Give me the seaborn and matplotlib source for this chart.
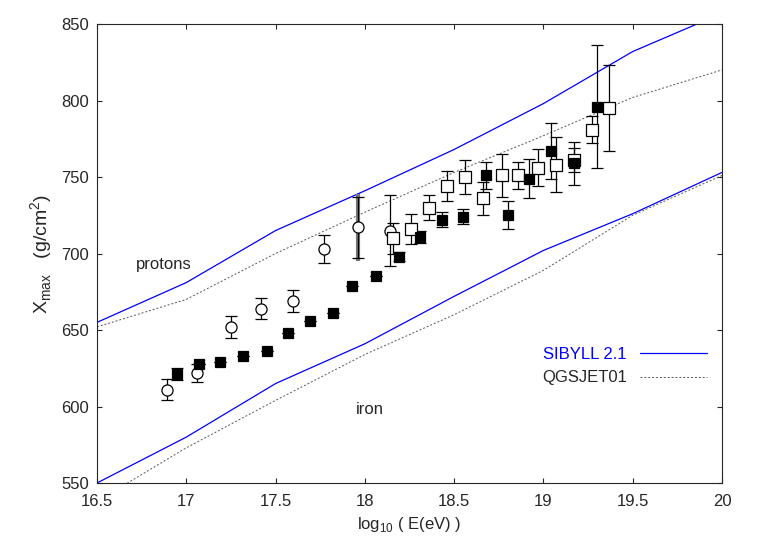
import matplotlib
matplotlib.use('Agg')
import matplotlib.pyplot as plt
import seaborn as sns
import pandas as pd

sns.set_style('ticks')
plt.rcParams['font.family'] = 'Liberation Sans'
plt.rcParams['mathtext.fontset'] = 'custom'
plt.rcParams['mathtext.rm'] = 'Liberation Sans'

# model predictions
model_e = [16.5, 17.0, 17.5, 18.0, 18.5, 19.0, 19.5, 20.0]
sibyll_p = [655, 681, 715, 741, 768, 798, 832, 857]
sibyll_fe = [550, 580, 615, 641, 672, 702, 726, 753]
qgsjet_p = [652, 670, 700, 727, 753, 777, 802, 820]
qgsjet_fe = [538, 573, 604, 634, 660, 689, 725, 751]

# open circles
circ_e = [16.89, 17.06, 17.25, 17.42, 17.60, 17.77, 17.96, 18.14]
circ_x = [611, 622, 652, 664, 669, 703, 717, 715]
circ_err = [7, 6, 7, 7, 7, 9, 20, 23]

# filled squares
fsq_e = [16.95, 17.07, 17.19, 17.32, 17.45, 17.57, 17.69, 17.82, 17.93, 18.06,
         18.19, 18.31, 18.43, 18.55, 18.68, 18.80, 18.92, 19.04, 19.17, 19.30]
fsq_x = [621, 628, 629, 633, 636, 648, 656, 661, 679, 685,
         698, 711, 722, 724, 751, 725, 749, 767, 759, 796]
fsq_err = [4, 0, 0, 0, 0, 0, 0, 0, 0, 0,
           3, 4, 5, 5, 9, 9, 13, 18, 14, 40]

# open squares
osq_e = [18.16, 18.26, 18.36, 18.46, 18.56, 18.66, 18.77, 18.86, 18.97, 19.07, 19.17, 19.27, 19.37]
osq_x = [710, 716, 730, 744, 750, 736, 751, 751, 756, 758, 761, 781, 795]
osq_err = [10, 10, 8, 10, 11, 11, 14, 9, 12, 18, 8, 9, 28]

# thick grey bar on one circle point
grey_e = [17.96]
grey_x = [717]
grey_err = [22]

models = pd.DataFrame({
    'E': model_e * 4,
    'X': sibyll_p + sibyll_fe + qgsjet_p + qgsjet_fe,
    'model': ['SIBYLL 2.1'] * 16 + ['QGSJET01'] * 16,
    'comp': ['p'] * 8 + ['fe'] * 8 + ['p'] * 8 + ['fe'] * 8,
})

fig = plt.figure(figsize=(7.63, 5.45), dpi=100)
ax = fig.add_axes([97 / 763, 62 / 545, 625 / 763, 459 / 545])

sns.lineplot(data=models, x='E', y='X', hue='model', units='comp', estimator=None,
             palette={'SIBYLL 2.1': '#0000ff', 'QGSJET01': '#555555'},
             style='model', dashes={'SIBYLL 2.1': '', 'QGSJET01': (2, 2)},
             linewidth=0.9, ax=ax)
for line in ax.get_lines():
    if line.get_color() == '#555555':
        line.set_linewidth(0.7)

ax.errorbar(grey_e, grey_x, yerr=grey_err, fmt='none', ecolor='#777777', elinewidth=3, capsize=0)
ax.errorbar(circ_e, circ_x, yerr=circ_err, fmt='o', mfc='white', mec='black', ecolor='black',
            ms=8, mew=0.9, elinewidth=0.9, capsize=4)
ax.errorbar(osq_e, osq_x, yerr=osq_err, fmt='s', mfc='white', mec='black', ecolor='black',
            ms=8, mew=0.9, elinewidth=0.9, capsize=4)
ax.errorbar(fsq_e, fsq_x, yerr=fsq_err, fmt='s', mfc='black', mec='black', ecolor='black',
            ms=7, mew=0.9, elinewidth=0.9, capsize=4)

ax.set_xlim(16.5, 20)
ax.set_ylim(550, 850)
ax.set_xticks([16.5, 17, 17.5, 18, 18.5, 19, 19.5, 20])
ax.set_xticklabels(['16.5', '17', '17.5', '18', '18.5', '19', '19.5', '20'])
ax.set_yticks(range(550, 851, 50))
ax.tick_params(direction='in', labelsize=12, top=True, right=True)
ax.tick_params(axis='x', pad=8)
ax.tick_params(axis='y', pad=6)
ax.set_xlabel(r'log$_{10}$ ( E(eV) )', fontsize=12)
ax.set_ylabel(r'X$_{\rm max}$   (g/cm$^2$)', fontsize=14)
for s in ax.spines.values():
    s.set_linewidth(0.8)

ax.text(16.72, 690, 'protons', fontsize=12)
ax.text(17.95, 595, 'iron', fontsize=12)

h, l = ax.get_legend_handles_labels()
leg = ax.legend(h[-2:], l[-2:], loc='lower right', bbox_to_anchor=(1.0, 0.18), frameon=False,
                markerfirst=False, fontsize=12, handlelength=4)
leg.get_texts()[0].set_color('#0000ff')

fig.savefig('out.png', dpi=100)
